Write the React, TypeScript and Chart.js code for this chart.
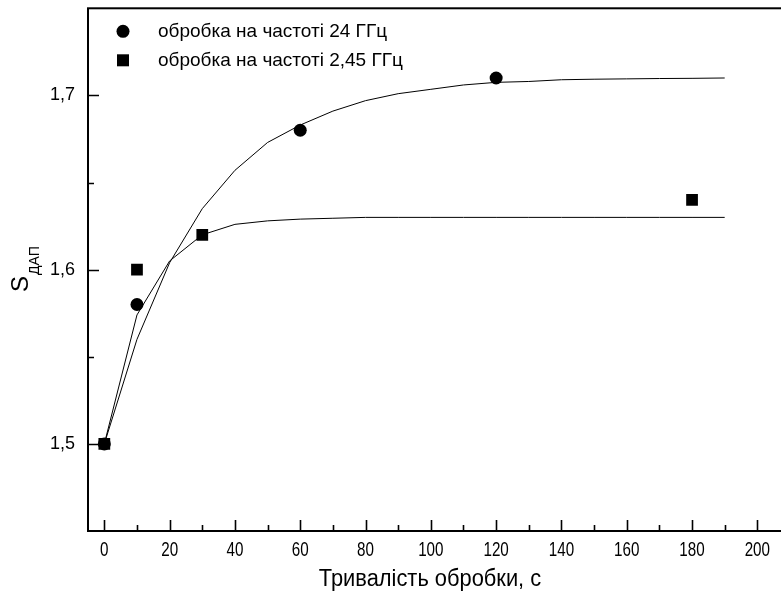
import React, { useEffect, useRef } from "react";
import { Chart, registerables } from "chart.js";

Chart.register(...registerables);

// Measured points
const durations24 = [0, 10, 60, 120];
const values24 = [1.5, 1.58, 1.68, 1.71];
const durations245 = [0, 10, 30, 180];
const values245 = [1.5, 1.6, 1.62, 1.64];

// Fitted curves
const fitDurations = [0, 10, 20, 30, 40, 50, 60, 70, 80, 90, 100, 110, 120, 130, 140, 150, 160, 170, 180, 190];
const fit24 = [1.5, 1.56, 1.604, 1.635, 1.657, 1.673, 1.683, 1.691, 1.697, 1.701, 1.7035, 1.706, 1.7075, 1.708, 1.709, 1.7093, 1.7095, 1.7097, 1.7098, 1.71];
const fit245 = [1.5, 1.574, 1.605, 1.62, 1.626, 1.628, 1.629, 1.6295, 1.63, 1.63, 1.63, 1.63, 1.63, 1.63, 1.63, 1.63, 1.63, 1.63, 1.63, 1.63];

// Axis ticks
const xTicks = [0, 20, 40, 60, 80, 100, 120, 140, 160, 180, 200];
const xMinorTicks = [10, 30, 50, 70, 90, 110, 130, 150, 170, 190];
const yTicks = [1.5, 1.6, 1.7];
const yMinorTicks = [1.55, 1.65];

const legendLabels = ["обробка на частоті 24 ГГц", "обробка на частоті 2,45 ГГц"];
const xTitle = "Тривалість обробки, с";
const yTitleMain = "S";
const yTitleSub = "ДАП";

const FONT = "'Liberation Sans', Arial, sans-serif";

const decorPlugin = {
  id: "decor",
  afterDraw(chart: any) {
    const { ctx, chartArea: a, scales } = chart;
    const x = scales.x;
    const y = scales.y;
    ctx.save();
    ctx.strokeStyle = "#000";
    ctx.fillStyle = "#000";
    // frame
    ctx.lineWidth = 2;
    ctx.strokeRect(a.left, a.top, a.right - a.left, a.bottom - a.top);
    // ticks (inward)
    ctx.lineWidth = 1.6;
    ctx.beginPath();
    xTicks.forEach((v) => {
      const p = Math.round(x.getPixelForValue(v)) + 0.5;
      ctx.moveTo(p, a.bottom);
      ctx.lineTo(p, a.bottom - 11);
    });
    xMinorTicks.forEach((v) => {
      const p = Math.round(x.getPixelForValue(v)) + 0.5;
      ctx.moveTo(p, a.bottom);
      ctx.lineTo(p, a.bottom - 6);
    });
    yTicks.forEach((v) => {
      const p = Math.round(y.getPixelForValue(v)) + 0.5;
      ctx.moveTo(a.left, p);
      ctx.lineTo(a.left + 11, p);
    });
    yMinorTicks.forEach((v) => {
      const p = Math.round(y.getPixelForValue(v)) + 0.5;
      ctx.moveTo(a.left, p);
      ctx.lineTo(a.left + 6, p);
    });
    ctx.stroke();

    // x tick labels (narrow, tall)
    ctx.font = `20px ${FONT}`;
    ctx.textAlign = "center";
    ctx.textBaseline = "middle";
    xTicks.forEach((v) => {
      const p = x.getPixelForValue(v);
      ctx.save();
      ctx.translate(p, a.bottom + 19);
      ctx.scale(0.76, 1);
      ctx.fillText(String(v), 0, 0);
      ctx.restore();
    });

    // legend
    const lx = a.left + 35;
    const ly1 = a.top + 23;
    const ly2 = a.top + 52;
    ctx.beginPath();
    ctx.arc(lx, ly1, 6.5, 0, Math.PI * 2);
    ctx.fill();
    ctx.fillRect(lx - 6, ly2 - 6, 12, 12);
    ctx.font = `19px ${FONT}`;
    ctx.textAlign = "left";
    ctx.textBaseline = "middle";
    ctx.fillText(legendLabels[0], lx + 35, ly1);
    ctx.fillText(legendLabels[1], lx + 35, ly2);

    // x title
    ctx.save();
    ctx.font = `23px ${FONT}`;
    ctx.textAlign = "center";
    ctx.textBaseline = "middle";
    ctx.translate(430, 580);
    ctx.scale(0.95, 1);
    ctx.fillText(xTitle, 0, 0);
    ctx.restore();

    // y title, rotated
    ctx.translate(28, 292);
    ctx.rotate(-Math.PI / 2);
    ctx.textAlign = "left";
    ctx.textBaseline = "alphabetic";
    ctx.font = `24px ${FONT}`;
    ctx.fillText(yTitleMain, 0, 0);
    const w = ctx.measureText(yTitleMain).width;
    ctx.font = `14px ${FONT}`;
    ctx.fillText(yTitleSub, w + 1, 11);
    ctx.restore();
  },
};

export default function App() {
  const ref = useRef<HTMLCanvasElement | null>(null);

  useEffect(() => {
    const canvas = ref.current;
    if (!canvas) return;
    const chart = new Chart(canvas, {
      type: "scatter",
      data: {
        datasets: [
          {
            label: "fit24",
            data: fitDurations.map((d, i) => ({ x: d, y: fit24[i] })),
            showLine: true,
            borderColor: "#000",
            borderWidth: 1,
            pointRadius: 0,
            fill: false,
          },
          {
            label: "fit245",
            data: fitDurations.map((d, i) => ({ x: d, y: fit245[i] })),
            showLine: true,
            borderColor: "#000",
            borderWidth: 1,
            pointRadius: 0,
            fill: false,
          },
          {
            label: legendLabels[0],
            data: durations24.map((d, i) => ({ x: d, y: values24[i] })),
            pointStyle: "circle",
            pointRadius: 6.5,
            backgroundColor: "#000",
            borderColor: "#000",
            borderWidth: 0,
          },
          {
            label: legendLabels[1],
            data: durations245.map((d, i) => ({ x: d, y: values245[i] })),
            pointStyle: "rect",
            pointRadius: 8.3,
            backgroundColor: "#000",
            borderColor: "#000",
            borderWidth: 0,
          },
        ],
      },
      options: {
        responsive: false,
        animation: false,
        layout: { padding: { left: 0, top: 7, right: 10, bottom: 0 } },
        plugins: {
          legend: { display: false },
          tooltip: { enabled: false },
        },
        scales: {
          x: {
            type: "linear",
            min: -5,
            max: 210,
            afterBuildTicks: (s: any) => {
              s.ticks = xTicks.map((v) => ({ value: v }));
            },
            afterFit: (s: any) => {
              s.height = 72;
              s.paddingLeft = 0;
              s.paddingRight = 0;
              s.paddingTop = 0;
              s.paddingBottom = 0;
            },
            grid: { display: false, drawTicks: false },
            border: { display: false },
            ticks: { display: false },
          },
          y: {
            type: "linear",
            min: 1.45,
            max: 1.75,
            afterBuildTicks: (s: any) => {
              s.ticks = yTicks.map((v) => ({ value: v }));
            },
            afterFit: (s: any) => {
              s.width = 88;
              s.paddingLeft = 0;
              s.paddingRight = 0;
              s.paddingTop = 0;
              s.paddingBottom = 0;
            },
            grid: { display: false, drawTicks: false },
            border: { display: false },
            ticks: {
              padding: 13,
              color: "#000",
              autoSkip: false,
              font: { family: FONT, size: 18 },
              callback: (v: any) => Number(v).toFixed(1).replace(".", ","),
            },
          },
        },
      },
      plugins: [decorPlugin],
    });
    return () => chart.destroy();
  }, []);

  return (
    <div
      style={{
        position: "fixed",
        left: 0,
        top: 0,
        width: 781,
        height: 603,
        overflow: "hidden",
        background: "#fff",
      }}
    >
      <canvas ref={ref} width={800} height={603} style={{ display: "block" }} />
    </div>
  );
}
